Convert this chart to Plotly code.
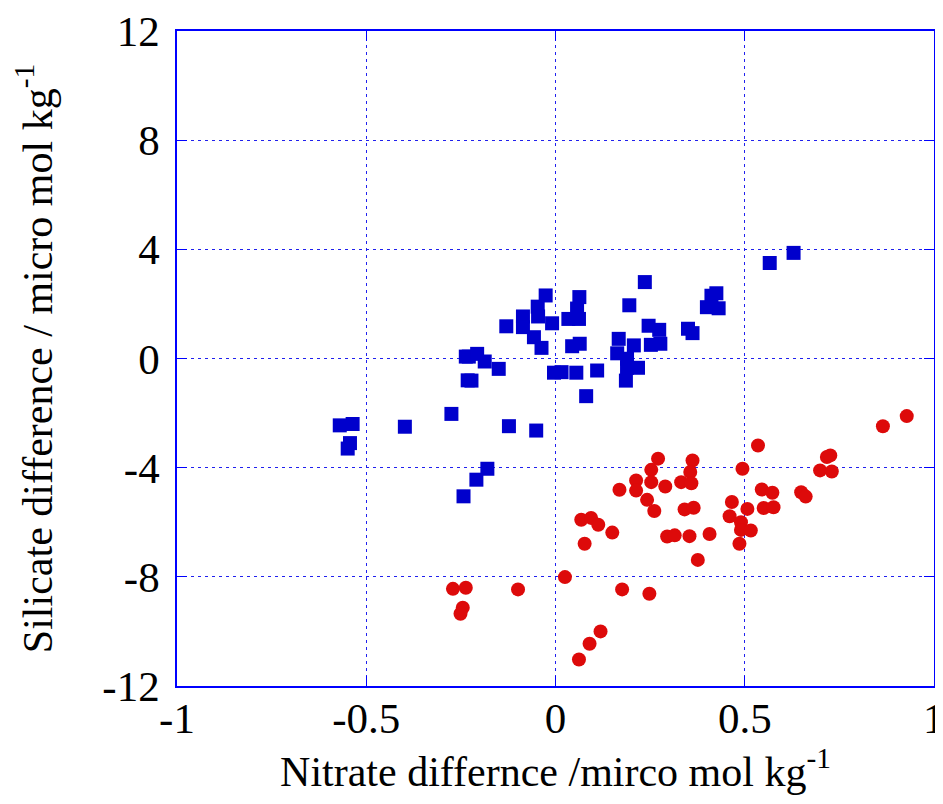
import plotly.graph_objects as go

# blue squares
blue_x = [-0.570, -0.536, -0.543, -0.549, -0.398, -0.275, -0.243, -0.237, -0.232, -0.229,
          -0.207, -0.187, -0.150, -0.222, -0.209, -0.180, -0.123, -0.051,
          -0.026, 0.063, -0.047, 0.057, 0.195, 0.236, -0.086, -0.046, -0.009, 0.034, 0.062,
          -0.130, -0.086, -0.057, -0.037, 0.044, 0.064, 0.246, 0.274, 0.167, 0.207, 0.252,
          0.277, 0.163, 0.189, 0.218, 0.189, 0.186, 0.350, 0.362, 0.400, 0.412, 0.425, 0.431,
          0.566, 0.629, -0.004, 0.016, 0.055, 0.110, 0.081]
blue_y = [-2.45, -2.40, -3.10, -3.30, -2.50, -2.03, -5.05, 0.07, -0.80, 0.07,
          0.17, -0.11, -0.38, -0.81, -4.44, -4.04, -2.48, -2.64,
          2.31, 2.25, 1.90, 1.83, 1.95, 2.80, 1.54, 1.54, 1.29, 1.45, 1.45,
          1.18, 1.15, 0.78, 0.39, 0.45, 0.54, 1.20, 1.05, 0.72, 0.48, 0.50,
          0.54, 0.19, -0.01, -0.34, -0.34, -0.81, 1.09, 0.93, 1.88, 2.30, 2.39, 1.84,
          3.50, 3.87, -0.52, -0.50, -0.52, -0.44, -1.38]

# red circles
red_x = [-0.271, -0.237, -0.245, -0.251, -0.099, 0.025, 0.176, 0.248, 0.119, 0.090, 0.062,
         0.077, 0.068, 0.094, 0.113, 0.150, 0.169, 0.213, 0.213, 0.242, 0.261, 0.253, 0.271,
         0.253, 0.290, 0.295, 0.315, 0.354, 0.376, 0.362, 0.356, 0.332, 0.359, 0.341, 0.365,
         0.407, 0.535, 0.494, 0.466, 0.507, 0.460, 0.490, 0.490, 0.516, 0.486, 0.545, 0.573,
         0.550, 0.576, 0.649, 0.661, 0.717, 0.726, 0.699, 0.730, 0.865, 0.928]
red_y = [-8.44, -8.40, -9.13, -9.35, -8.46, -8.01, -8.46, -8.62, -10.0, -10.45, -11.03,
         -6.79, -5.91, -5.84, -6.09, -6.38, -4.81, -4.47, -4.84, -5.18, -5.59, -4.08, -3.67,
         -4.53, -4.69, -6.52, -6.48, -6.51, -7.38, -3.74, -4.16, -4.53, -4.57, -5.53, -5.47,
         -6.43, -3.19, -4.04, -5.26, -5.51, -5.78, -6.00, -6.28, -6.30, -6.79, -4.80, -4.92,
         -5.48, -5.45, -4.90, -5.06, -3.61, -3.55, -4.10, -4.14, -2.48, -2.11]

x_ticks = [-1, -0.5, 0, 0.5, 1]
y_ticks = [-12, -8, -4, 0, 4, 8, 12]

fig = go.Figure()
fig.add_trace(go.Scatter(x=blue_x, y=blue_y, mode="markers",
                         marker=dict(symbol="square", size=14, color="#0000cc")))
fig.add_trace(go.Scatter(x=red_x, y=red_y, mode="markers",
                         marker=dict(symbol="circle", size=14, color="#dd0a0a")))

axis_common = dict(
    showline=True, linecolor="#0000ff", linewidth=1.5, mirror="ticks",
    ticks="inside", ticklen=10, tickcolor="#0000ff", tickwidth=1,
    showgrid=True, gridcolor="#2020ee", gridwidth=1, griddash="3px,4px",
    zeroline=False, automargin=False,
    tickfont=dict(family="Liberation Serif", size=43, color="black"),
)

# the last x label hangs over the right edge, plotly drops it, so draw it as an annotation
x_text = [str(v) for v in x_ticks]
x_text[-1] = ""

# page body adds an 8px margin, so the figure is sized to leave room for it
fig.update_layout(
    width=935, height=796,
    paper_bgcolor="white", plot_bgcolor="white",
    showlegend=False,
    margin=dict(l=169, r=9, t=23, b=118),
    xaxis=dict(range=[-1, 1], tickvals=x_ticks, ticktext=x_text,
               ticklabelstandoff=-6,
               title=dict(text="Nitrate differnce /mirco mol kg<sup>-1</sup>",
                          font=dict(family="Liberation Serif", size=42, color="black"),
                          standoff=15),
               **axis_common),
    yaxis=dict(range=[-12, 12], tickvals=y_ticks, ticktext=[str(v) for v in y_ticks],
               ticklabelstandoff=7,
               title=dict(text="Silicate difference / micro mol kg<sup>-1</sup>",
                          font=dict(family="Liberation Serif", size=42, color="black"),
                          standoff=38),
               **axis_common),
    annotations=[dict(x=x_ticks[-1], xref="x", y=-0.049, yref="paper",
                      text=str(x_ticks[-1]), showarrow=False, xanchor="center", yanchor="middle",
                      font=dict(family="Liberation Serif", size=43, color="black"))],
)

fig.write_html("out.html")
